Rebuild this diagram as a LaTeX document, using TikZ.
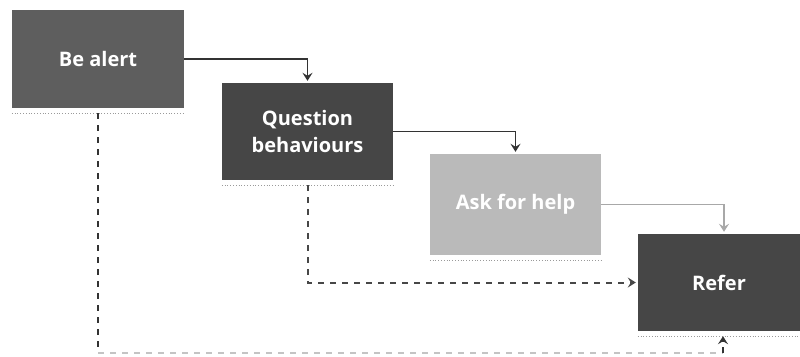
\documentclass[tikz,border=0pt]{standalone}
\usepackage{fontspec}
\setmainfont{Open Sans}
\usetikzlibrary{arrows.meta}
\definecolor{bealert}{HTML}{5E5E5E}
\definecolor{darkbox}{HTML}{464646}
\definecolor{lightbox}{HTML}{BABABA}
\definecolor{darkline}{HTML}{333333}
\definecolor{lightline}{HTML}{A8A8A8}
\definecolor{faintline}{HTML}{C4C4C4}
\definecolor{shadowline}{HTML}{9A9A9A}
\tikzset{
  stepbox/.style={draw=none, minimum width=171pt, minimum height=97pt, inner sep=0pt,
    text=white, align=center, font=\fontsize{20}{27}\selectfont\bfseries},
  tip/.style={-{Stealth[length=8pt,width=10pt,inset=3pt]}},
  solidcon/.style={tip, line width=1.8pt, color=darkline},
  dashcon/.style={line width=2pt, dash pattern=on 6pt off 6pt},
  shadowrule/.style={shadowline, line width=0.8pt, dotted}
}
\begin{document}
\begin{tikzpicture}[x=1pt,y=-1pt]
\useasboundingbox (0,0) rectangle (800,356);
\node[stepbox, fill=bealert, minimum width=172pt, minimum height=98pt] (be) at (98,59) {Be alert};
\node[stepbox, fill=darkbox] (qb) at (307.5,131.5) {Question\\behaviours};
\node[stepbox, fill=lightbox, minimum height=101pt] (ask) at (515.5,204.5) {Ask for help};
\node[stepbox, fill=darkbox, minimum width=162pt] (refer) at (719,282.5) {Refer};
% shadow rules under boxes
\foreach \n in {be,qb,ask,refer}{
  \draw[shadowrule] ([yshift=-5pt]\n.south west) -- ([yshift=-5pt]\n.south east);
}
% solid connectors
\draw[solidcon] (be.east) -| ([yshift=2pt]qb.north);
\draw[solidcon] (qb.east) -| ([yshift=2pt]ask.north);
\draw[solidcon, color=lightline] (ask.east) -| ([xshift=5pt,yshift=2pt]refer.north);
% dashed connectors
\draw[dashcon, tip, color=darkline!90] ([yshift=-5pt]qb.south) |- ([xshift=-2pt]refer.west);
\coordinate (bl) at ([yshift=0pt]be.south |- 0,353);
\coordinate (br) at ([xshift=4pt]refer.south |- 0,353);
\draw[dashcon, color=darkline] ([yshift=-5pt]be.south) -- (bl);
\draw[dashcon, color=faintline] (bl) -- (br);
\draw[dashcon, tip, color=darkline] (br) -- ([xshift=4pt,yshift=-5pt]refer.south);
\end{tikzpicture}
\end{document}
